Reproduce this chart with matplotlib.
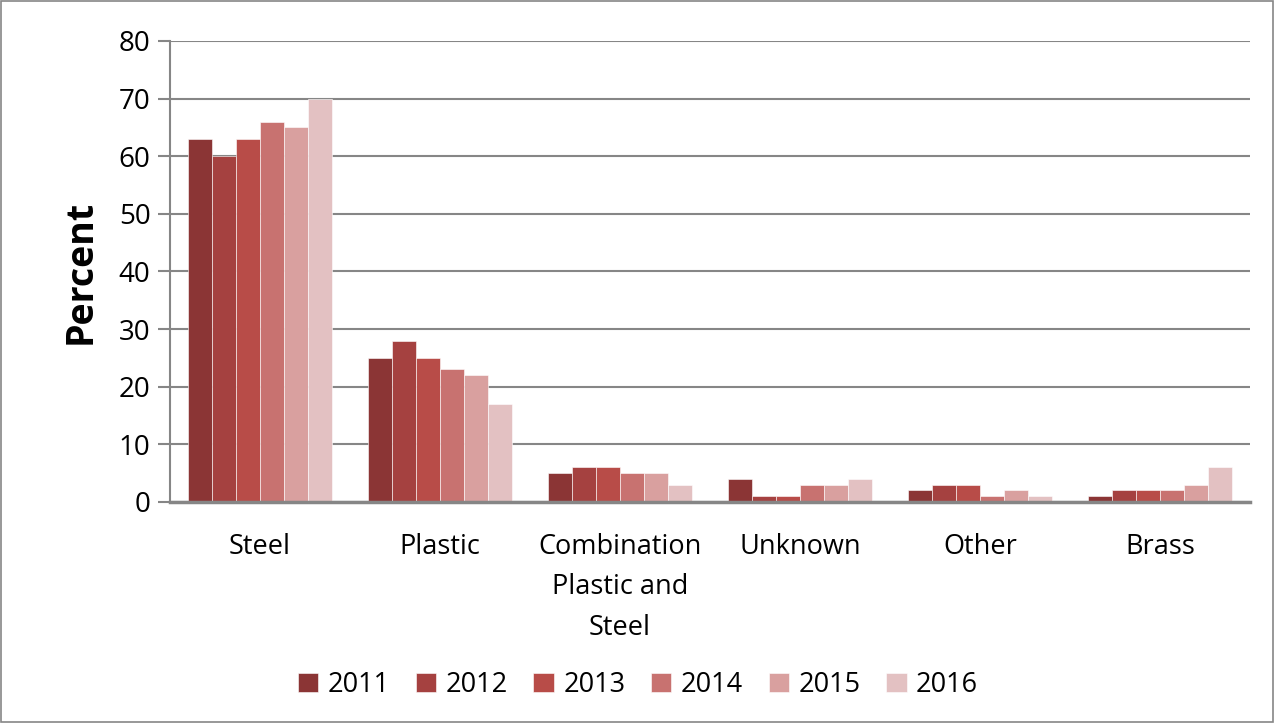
import numpy as np
import matplotlib.pyplot as plt
from matplotlib.patches import Rectangle

# data
categories = ["Steel", "Plastic", "Combination\nPlastic and\nSteel", "Unknown", "Other", "Brass"]
years = ["2011", "2012", "2013", "2014", "2015", "2016"]
values = {
    "2011": [63, 25, 5, 4, 2, 1],
    "2012": [60, 28, 6, 1, 3, 2],
    "2013": [63, 25, 6, 1, 3, 2],
    "2014": [66, 23, 5, 3, 1, 2],
    "2015": [65, 22, 5, 3, 2, 3],
    "2016": [70, 17, 3, 4, 1, 6],
}
colors = ["#8B3535", "#A54140", "#B84C48", "#C87270", "#D9A09F", "#E3C1C2"]

plt.rcParams['font.family'] = ['Open Sans', 'DejaVu Sans']

fig = plt.figure(figsize=(12.76, 7.23), dpi=100)
ax = fig.add_axes([0.1332, 0.3057, 0.8464, 0.6376])

x = np.arange(len(categories))
width = 0.8 / len(years)
for i, yr in enumerate(years):
    ax.bar(x - 0.4 + width * (i + 0.5), values[yr], width, color=colors[i],
           edgecolor="white", linewidth=0.4, label=yr, zorder=3)

ax.set_xlim(-0.5, len(categories) - 0.5)
ax.set_ylim(0, 80)
ax.set_yticks(range(0, 81, 10))
ax.tick_params(axis="y", labelsize=20, length=9, color="#868686", width=1.5, pad=5)
ax.tick_params(axis="x", labelsize=19.5, length=0, pad=22)
ax.set_xticks(x)
ax.set_xticklabels(categories, linespacing=1.6)
ax.grid(axis="y", color="#868686", linewidth=1.5, zorder=0)
for s in ["top", "right"]:
    ax.spines[s].set_visible(False)
ax.spines["left"].set_color("#868686")
ax.spines["left"].set_linewidth(1.5)
ax.spines["bottom"].set_color("#868686")
ax.spines["bottom"].set_linewidth(2.5)
ax.spines["bottom"].set_zorder(4)
ax.set_ylabel("Percent", fontsize=27, fontweight="bold", labelpad=14)

ax.legend(loc="center", ncol=6, frameon=False, fontsize=19.5, handlelength=0.75,
          handleheight=0.75, handletextpad=0.35, columnspacing=0.95)
leg = ax.get_legend()
leg.set_bbox_to_anchor((0.5, 38 / 723), transform=fig.transFigure)

fig.patches.append(Rectangle((0.001, 0.001), 0.997, 0.997, transform=fig.transFigure,
                             fill=False, edgecolor="#868686", linewidth=1.2))

fig.savefig("out.png", dpi=100)
